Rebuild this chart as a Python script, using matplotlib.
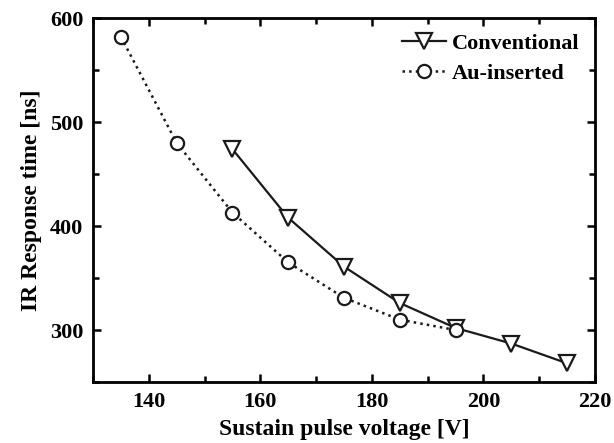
import matplotlib
matplotlib.use("Agg")
import matplotlib.pyplot as plt
from matplotlib.ticker import MultipleLocator

plt.rcParams['font.family'] = ['Liberation Serif', 'DejaVu Serif']
plt.rcParams['font.weight'] = 'bold'

conv_v = [155, 165, 175, 185, 195, 205, 215]
conv_t = [474, 408, 361, 326, 302, 287, 268]
au_v = [135, 145, 155, 165, 175, 185, 195]
au_t = [582, 480, 413, 365, 331, 310, 300]

fig = plt.figure(figsize=(6.14, 4.43), dpi=100)
ax = fig.add_axes([0.1515, 0.1377, 0.8175, 0.8213])

ax.plot(conv_v, conv_t, '-', color='#1a1a1a', lw=1.6, marker='v', markersize=12,
        markerfacecolor='white', markeredgecolor='#1a1a1a', markeredgewidth=1.6,
        label='Conventional')
ax.plot(au_v, au_t, ':', color='#1a1a1a', lw=1.8, marker='o', markersize=9.5,
        markerfacecolor='white', markeredgecolor='#1a1a1a', markeredgewidth=1.6,
        label='Au-inserted')

ax.set_xlim(130, 220)
ax.set_ylim(250, 600)
ax.xaxis.set_major_locator(MultipleLocator(20))
ax.xaxis.set_minor_locator(MultipleLocator(10))
ax.yaxis.set_major_locator(MultipleLocator(100))
ax.yaxis.set_minor_locator(MultipleLocator(50))
ax.tick_params(which='both', direction='in', top=True, right=True, width=1.8)
ax.tick_params(which='major', length=6, labelsize=16, pad=7)
ax.tick_params(which='minor', length=4)
for s in ax.spines.values():
    s.set_linewidth(2)
for lab in ax.get_xticklabels() + ax.get_yticklabels():
    lab.set_fontweight('bold')

ax.set_xlabel('Sustain pulse voltage [V]', fontsize=17, fontweight='bold', labelpad=5)
ax.set_ylabel('IR Response time [ns]', fontsize=17, fontweight='bold', labelpad=6)

leg = ax.legend(loc='upper right', frameon=False, fontsize=16, handlelength=2.0,
                handletextpad=0.25, borderaxespad=0.3, labelspacing=0.4)

fig.savefig('out.png', dpi=100)
